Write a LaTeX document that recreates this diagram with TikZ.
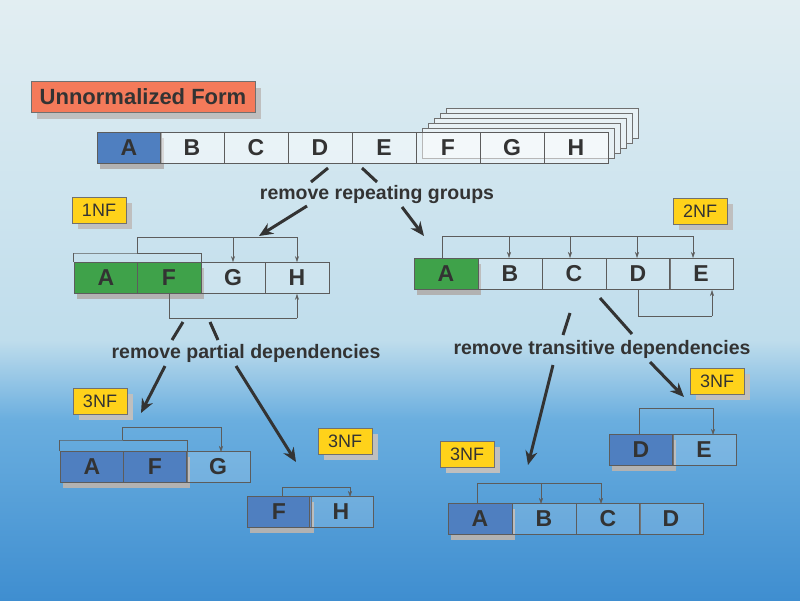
\documentclass[tikz,border=0pt]{standalone}
\usepackage{fontspec}
\setmainfont{Liberation Sans}
\usetikzlibrary{positioning,shadows,arrows.meta}
\definecolor{keyblue}{HTML}{4F7FC0}
\definecolor{keygreen}{HTML}{3FA24A}
\definecolor{tagorange}{HTML}{F47A5A}
\definecolor{tagyellow}{HTML}{FFD21A}
\definecolor{ink}{HTML}{333333}
\definecolor{washtop}{HTML}{E2EEF2}
\definecolor{washmid}{HTML}{BFDDEC}
\definecolor{washlow}{HTML}{6AAEDF}
\definecolor{washbot}{HTML}{3F8ED0}
\tikzset{
  cell/.style={draw=ink!80,line width=0.6pt,fill=white,fill opacity=0.15,text opacity=1,
    minimum width=64pt,minimum height=31pt,inner sep=0pt,
    font=\fontsize{23}{23}\selectfont\bfseries,text=ink},
  keyb/.style={cell,fill=keyblue,fill opacity=1,
    drop shadow={shadow xshift=3pt,shadow yshift=-5pt,fill=gray!60,opacity=1}},
  keyg/.style={keyb,fill=keygreen},
  tag/.style={draw=ink!70,fill=tagyellow,inner sep=0pt,minimum width=54pt,minimum height=26pt,
    font=\fontsize{18}{18}\selectfont,text=ink,
    drop shadow={shadow xshift=6pt,shadow yshift=-6pt,fill=gray!50,opacity=1}},
  dep/.style={draw=ink!80,line width=0.5pt},
  deparr/.style={dep,-{Stealth[length=6pt,width=4pt]}},
  nfstep/.style={draw=ink,line width=3pt,-{Stealth[length=14pt,width=12pt]}},
  stub/.style={draw=ink,line width=3pt},
  lbl/.style={font=\fontsize{19.5}{20}\selectfont\bfseries,text=ink}
}
\begin{document}
\begin{tikzpicture}[x=1pt,y=-1pt]
   % background wash
   \shade[top color=washtop,bottom color=washmid] (0,0) rectangle (800,340);
   \shade[top color=washmid,bottom color=washlow] (0,340) rectangle (800,420);
   \shade[top color=washlow,bottom color=washbot] (0,420) rectangle (800,600);
   \useasboundingbox (0,0) rectangle (800,600);

   % unnormalized form with repeating groups
   \node[tag,fill=tagorange,minimum width=224pt,minimum height=31pt,
     font=\fontsize{22}{22}\selectfont\bfseries] (tagU) at (143,97) {Unnormalized Form};
   \foreach \k in {5,4,...,1}
     \draw[draw=ink!70,fill=washtop!80!white] (416+6*\k,133-5*\k) rectangle (608+6*\k,163-5*\k);
   \node[keyb] (uA) at (129,148) {A};
   \foreach \n/\x in {B/192,C/256,D/320,E/384,F/448,G/512,H/576}
     \node[cell,fill=white,fill opacity=0.5] (u\n) at (\x,148) {\n};

   \node[lbl] (rg) at (377,194) {remove repeating groups};
   \draw[stub] (328,168) -- (311,182);
   \draw[stub] (362,168) -- (377,182);

   % 1NF
   \node[tag] (t1) at (99,210) {1NF};
   \node[keyg] (oA) at (106,278) {A};
   \node[keyg] (oF) at (169,278) {F};
   \node[cell] (oG) at (233,278) {G};
   \node[cell] (oH) at (297,278) {H};
   \draw[dep] (oA.north west) |- (74,253) -| (oF.north east);
   \draw[dep] (137,253) |- (297,237);
   \draw[deparr] (233,237) -- (oG.north);
   \draw[deparr] (297,237) -- (oH.north);
   \draw[dep] (oF.south) |- (297,318);
   \draw[deparr] (297,318) -- (oH.south);
   \draw[nfstep] (307,206) -- (259,236);

   % 2NF
   \node[tag] (t2) at (700,211) {2NF};
   \node[keyg] (wA) at (446,274) {A};
   \foreach \n/\x in {B/510,C/574,D/638,E/701}
     \node[cell] (w\n) at (\x,274) {\n};
   \draw[dep] (442,258) |- (693,236);
   \foreach \x in {509,570,637,693}
     \draw[deparr] (\x,236) -- (\x,258);
   \draw[dep] (wD.south) |- (712,316);
   \draw[deparr] (712,316) -- (712,290);
   \draw[nfstep] (402,207) -- (424,236);

   % partial dependencies
   \node[lbl] (pd) at (246,353) {remove partial dependencies};
   \draw[stub] (183,322) -- (172,340);
   \draw[stub] (210,322) -- (218,340);
   \draw[nfstep] (165,366) -- (141,413);
   \draw[nfstep] (236,366) -- (296,462);

   \node[tag] (t3a) at (100,401) {3NF};
   \node[keyb] (aA) at (92,467) {A};
   \node[keyb] (aF) at (155,467) {F};
   \node[cell] (aG) at (218,467) {G};
   \draw[dep] (aA.north west) |- (60,440) -| (aF.north east);
   \draw[dep] (122,440) |- (221,427);
   \draw[deparr] (221,427) -- (221,452);

   \node[tag] (t3b) at (345,441) {3NF};
   \node[keyb] (bF) at (279,512) {F};
   \node[cell] (bH) at (341,512) {H};
   \draw[dep] (282,497) |- (350,487);
   \draw[deparr] (350,487) -- (350,497);

   % transitive dependencies
   \node[lbl] (td) at (602,349) {remove transitive dependencies};
   \draw[stub] (570,313) -- (563,335);
   \draw[stub] (600,298) -- (632,334);
   \draw[nfstep] (553,365) -- (528,465);
   \draw[nfstep] (650,362) -- (684,397);

   \node[tag] (t3c) at (717,381) {3NF};
   \node[keyb] (cD) at (641,450) {D};
   \node[cell] (cE) at (704,450) {E};
   \draw[dep] (639,435) |- (713,408);
   \draw[deparr] (713,408) -- (713,435);

   \node[tag] (t3d) at (467,454) {3NF};
   \node[keyb] (dA) at (480,519) {A};
   \foreach \n/\x in {B/544,C/608,D/671}
     \node[cell] (d\n) at (\x,519) {\n};
   \draw[dep] (477,504) |- (601,483);
   \draw[deparr] (541,483) -- (541,504);
   \draw[deparr] (601,483) -- (601,504);
 \end{tikzpicture}
\end{document}
